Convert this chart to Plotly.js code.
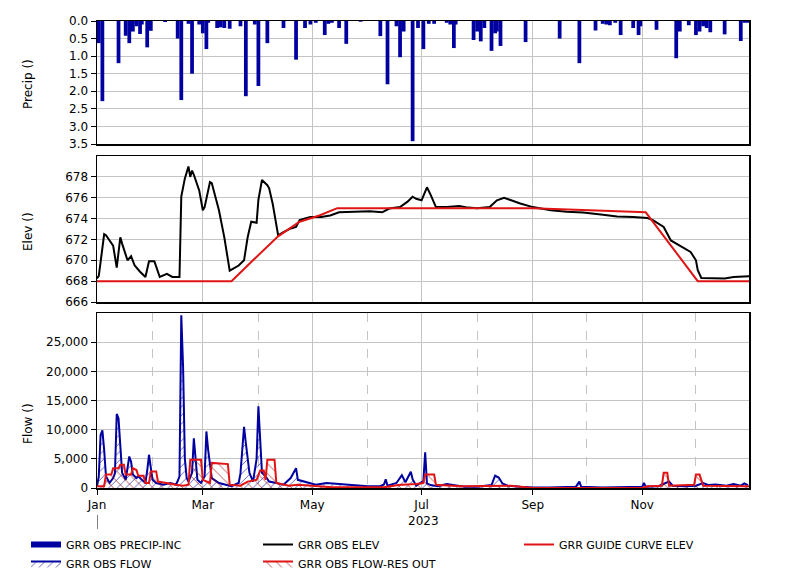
<!DOCTYPE html>
<html>
<head>
<meta charset="utf-8">
<script src="https://cdn.plot.ly/plotly-3.0.1.min.js"></script>
<style>html,body{margin:0;padding:0;background:#fff;}#chart{width:801px;height:580px;}</style>
</head>
<body>
<div id="chart"></div>
<script>
// ---------- DATA ----------
const precipDates = ['2023-01-02','2023-01-04','2023-01-13','2023-01-17','2023-01-19','2023-01-21','2023-01-23','2023-01-25','2023-01-26','2023-01-29','2023-01-31','2023-02-08','2023-02-15','2023-02-17','2023-02-21','2023-02-23','2023-02-27','2023-03-01','2023-03-03','2023-03-04','2023-03-09','2023-03-11','2023-03-13','2023-03-16','2023-03-22','2023-03-25','2023-03-30','2023-04-01','2023-04-06','2023-04-15','2023-04-22','2023-04-27','2023-04-30','2023-05-03','2023-05-08','2023-05-10','2023-05-12','2023-05-16','2023-05-20','2023-05-28','2023-06-08','2023-06-12','2023-06-17','2023-06-19','2023-06-21','2023-06-26','2023-06-29','2023-07-02','2023-07-05','2023-07-08','2023-07-15','2023-07-17','2023-07-19','2023-07-20','2023-07-30','2023-08-01','2023-08-03','2023-08-05','2023-08-09','2023-08-11','2023-08-12','2023-08-14','2023-08-28','2023-09-16','2023-09-27','2023-10-06','2023-10-10','2023-10-12','2023-10-14','2023-10-17','2023-10-20','2023-10-27','2023-10-30','2023-10-31','2023-11-09','2023-11-20','2023-11-22','2023-11-27','2023-12-01','2023-12-03','2023-12-05','2023-12-07','2023-12-09','2023-12-17','2023-12-26','2023-12-28','2023-12-30'];
const precipValues = [0.63,2.28,1.2,0.42,0.63,0.3,0.15,0.37,0.1,0.75,0.28,0.03,0.5,2.25,0.08,1.5,0.1,0.35,0.8,0.05,0.2,0.18,0.2,0.22,0.15,2.14,0.1,1.85,0.63,0.2,1.1,0.2,0.1,0.05,0.4,0.08,0.05,0.2,0.65,0.02,0.43,1.8,0.15,1.03,0.3,3.42,0.2,0.8,0.08,0.08,0.05,0.1,0.77,0.1,0.54,0.3,0.58,0.2,0.85,0.35,0.3,0.71,0.6,0.5,1.2,0.27,0.08,0.1,0.12,0.05,0.4,0.2,0.4,0.15,0.25,1.06,0.3,0.12,0.4,0.3,0.15,0.2,0.32,0.38,0.57,0.05,0.05];

const elevDates = ['2023-01-01','2023-01-02','2023-01-05','2023-01-06','2023-01-08','2023-01-10','2023-01-12','2023-01-14','2023-01-15','2023-01-18','2023-01-20','2023-01-22','2023-01-25','2023-01-28','2023-01-30','2023-02-02','2023-02-05','2023-02-09','2023-02-12','2023-02-16','2023-02-17','2023-02-19','2023-02-21','2023-02-22','2023-02-23','2023-02-24','2023-02-27','2023-03-01','2023-03-02','2023-03-05','2023-03-06','2023-03-10','2023-03-13','2023-03-16','2023-03-18','2023-03-21','2023-03-24','2023-03-26','2023-03-28','2023-03-31','2023-04-01','2023-04-03','2023-04-06','2023-04-07','2023-04-09','2023-04-12','2023-04-15','2023-04-19','2023-04-22','2023-04-24','2023-04-27','2023-04-30','2023-05-06','2023-05-11','2023-05-16','2023-05-21','2023-06-02','2023-06-09','2023-06-13','2023-06-19','2023-06-23','2023-06-26','2023-06-28','2023-07-01','2023-07-04','2023-07-06','2023-07-09','2023-07-15','2023-07-22','2023-07-27','2023-08-01','2023-08-08','2023-08-12','2023-08-16','2023-08-20','2023-08-25','2023-09-01','2023-09-11','2023-09-20','2023-09-29','2023-10-09','2023-10-18','2023-10-27','2023-11-04','2023-11-07','2023-11-13','2023-11-17','2023-11-22','2023-11-28','2023-12-01','2023-12-02','2023-12-04','2023-12-11','2023-12-17','2023-12-22','2023-12-31'];
const elevValues = [668.25,668.5,672.5,672.4,671.9,671.4,669.3,672.2,671.6,670.0,670.4,669.5,668.9,668.4,669.9,669.9,668.4,668.7,668.4,668.4,676.1,677.85,679.0,678.0,678.6,678.2,676.7,674.8,675.1,677.5,677.4,674.8,672.2,669.0,669.2,669.5,670.0,672.2,673.7,673.6,675.8,677.7,677.2,676.9,675.4,672.4,672.7,673.05,673.2,673.85,674.0,674.15,674.15,674.3,674.6,674.65,674.7,674.6,674.96,675.1,675.6,676.1,675.9,675.75,677.0,676.3,675.1,675.1,675.2,675.05,675.0,675.1,675.75,676.0,675.75,675.45,675.1,674.8,674.65,674.58,674.4,674.2,674.15,674.05,673.85,673.2,671.9,671.4,670.8,670.0,669.05,668.3,668.25,668.25,668.4,668.47];

const guideDates = ['2023-01-01','2023-03-17','2023-03-29','2023-04-12','2023-04-24','2023-05-05','2023-05-15','2023-09-01','2023-11-03','2023-12-02','2023-12-31'];
const guideValues = [668,668,670.0,672.3,673.7,674.3,675,675,674.6,668,668];

const flowDates = ['2023-01-01','2023-01-02','2023-01-03','2023-01-04','2023-01-05','2023-01-06','2023-01-08','2023-01-10','2023-01-11','2023-01-12','2023-01-13','2023-01-14','2023-01-15','2023-01-17','2023-01-19','2023-01-20','2023-01-21','2023-01-23','2023-01-24','2023-01-26','2023-01-28','2023-01-29','2023-01-30','2023-01-31','2023-02-01','2023-02-03','2023-02-07','2023-02-11','2023-02-14','2023-02-15','2023-02-16','2023-02-17','2023-02-18','2023-02-19','2023-02-20','2023-02-21','2023-02-23','2023-02-24','2023-02-25','2023-02-26','2023-02-28','2023-03-02','2023-03-03','2023-03-04','2023-03-06','2023-03-10','2023-03-17','2023-03-21','2023-03-22','2023-03-24','2023-03-25','2023-03-27','2023-03-29','2023-03-31','2023-04-01','2023-04-02','2023-04-03','2023-04-05','2023-04-07','2023-04-11','2023-04-15','2023-04-19','2023-04-22','2023-04-23','2023-04-27','2023-05-03','2023-05-09','2023-05-20','2023-06-01','2023-06-08','2023-06-10','2023-06-11','2023-06-12','2023-06-17','2023-06-20','2023-06-22','2023-06-25','2023-06-26','2023-06-28','2023-06-30','2023-07-02','2023-07-03','2023-07-04','2023-07-06','2023-07-10','2023-07-15','2023-07-20','2023-07-25','2023-08-01','2023-08-09','2023-08-11','2023-08-13','2023-08-15','2023-08-18','2023-08-25','2023-09-01','2023-09-10','2023-09-25','2023-09-27','2023-09-28','2023-10-10','2023-10-25','2023-11-01','2023-11-02','2023-11-03','2023-11-10','2023-11-16','2023-11-18','2023-11-25','2023-12-01','2023-12-05','2023-12-08','2023-12-12','2023-12-18','2023-12-22','2023-12-26','2023-12-28','2023-12-30'];
const flowValues = [300,2000,9100,9900,6500,2000,860,1700,2500,12700,11900,6500,2600,1400,5400,4500,2300,1700,2000,1400,860,3000,5700,3500,1400,860,570,860,570,1200,2000,29600,20800,5000,1700,1100,2600,8500,4300,1400,860,2000,9700,6500,1700,860,300,860,2500,10500,7700,2600,1100,5000,14000,8800,2600,2000,1100,860,570,1700,3400,1400,1100,570,860,640,300,300,600,1500,400,860,2200,1000,2800,1500,400,800,1200,6100,800,500,300,700,500,200,200,500,2100,1800,800,400,200,100,100,200,1100,200,100,100,200,860,200,300,1100,400,300,400,860,500,600,400,700,400,800,500];

const resOutDates = ['2023-01-01','2023-01-05','2023-01-06','2023-01-09','2023-01-10','2023-01-13','2023-01-14','2023-01-16','2023-01-17','2023-01-20','2023-01-21','2023-01-23','2023-01-24','2023-01-27','2023-01-28','2023-01-30','2023-01-31','2023-02-03','2023-02-04','2023-02-08','2023-02-14','2023-02-18','2023-02-21','2023-02-22','2023-02-28','2023-03-01','2023-03-05','2023-03-06','2023-03-15','2023-03-16','2023-03-22','2023-03-26','2023-03-31','2023-04-02','2023-04-04','2023-04-05','2023-04-06','2023-04-10','2023-04-11','2023-04-18','2023-04-23','2023-05-01','2023-05-12','2023-06-10','2023-06-18','2023-06-28','2023-07-02','2023-07-03','2023-07-08','2023-07-09','2023-07-23','2023-08-20','2023-08-31','2023-09-01','2023-11-01','2023-11-04','2023-11-12','2023-11-13','2023-11-15','2023-11-16','2023-11-30','2023-12-01','2023-12-03','2023-12-05','2023-12-31'];
const resOutValues = [300,300,2300,2300,3400,3400,4000,4000,2300,2300,3400,3100,2100,2100,860,860,2850,2850,1100,860,570,400,570,4850,4850,1400,860,4300,4100,570,400,1100,1400,3000,3000,1400,4850,4850,860,400,570,400,110,110,500,700,860,2300,2300,570,300,400,100,0,0,285,400,2600,2600,400,570,2300,2300,400,285];

const monthTickVals = ['2023-01-01','2023-03-01','2023-05-01','2023-07-01','2023-09-01','2023-11-01'];
const monthTickText = ['Jan','Mar','May','Jul','Sep','Nov'];
const minorMonthVals = ['2023-02-01','2023-04-01','2023-06-01','2023-08-01','2023-10-01','2023-12-01'];
const yearLabel = '2023';
const precipTicks = [0,0.5,1,1.5,2,2.5,3,3.5];
const elevTicks = [666,668,670,672,674,676,678];
const flowTicks = [0,5000,10000,15000,20000,25000];

// ---------- STYLE ----------
const BLUE = '#0000a0';
const RED = '#e01414';
const GRID = '#c4c4c4';
const FONT = 'DejaVu Sans';

const traces = [
  {type:'bar', x:precipDates, y:precipValues, xaxis:'x3', yaxis:'y3', marker:{color:BLUE, line:{width:0}},
   width:precipDates.map(()=>2.1*86400000), showlegend:false, name:'GRR OBS PRECIP-INC'},
  {type:'scatter', mode:'lines', x:[null], y:[null], xaxis:'x3', yaxis:'y3', line:{color:BLUE, width:6},
   name:'GRR OBS PRECIP-INC', legend:'legend'},
  {type:'scatter', mode:'lines', x:elevDates, y:elevValues, xaxis:'x2', yaxis:'y2', line:{color:'#000', width:2},
   name:'GRR OBS ELEV', legend:'legend2'},
  {type:'scatter', mode:'lines', x:guideDates, y:guideValues, xaxis:'x2', yaxis:'y2', line:{color:RED, width:2},
   name:'GRR GUIDE CURVE ELEV', legend:'legend3'},
  {type:'scatter', mode:'lines', x:flowDates, y:flowValues, xaxis:'x', yaxis:'y', line:{color:BLUE, width:2},
   fill:'tozeroy', fillcolor:'rgba(0,0,0,0)',
   fillpattern:{shape:'/', fgcolor:BLUE, bgcolor:'rgba(0,0,0,0)', size:6, solidity:0.1},
   name:'GRR OBS FLOW', legend:'legend'},
  {type:'scatter', mode:'lines', x:resOutDates, y:resOutValues, xaxis:'x', yaxis:'y', line:{color:RED, width:2},
   fill:'tozeroy', fillcolor:'rgba(0,0,0,0)',
   fillpattern:{shape:'\\', fgcolor:'#a01010', bgcolor:'rgba(0,0,0,0)', size:7, solidity:0.1},
   name:'GRR OBS FLOW-RES OUT', legend:'legend2'}
];

const L = 97, R = 749, T = 21, B = 488;
const PW = R - L, PH = B - T;
const py = p => (B - p) / PH;   // pixel y -> paper y
const px = p => (p - L) / PW;   // pixel x -> paper x

const xrange = ['2023-01-01','2023-12-30 14:00'];
const baseY = {showline:true, mirror:true, linecolor:'#000', linewidth:1.5, ticks:'outside', ticklen:5,
  tickcolor:'#000', showgrid:true, gridcolor:GRID, gridwidth:1, zeroline:false,
  tickfont:{family:FONT, size:12, color:'#000'}, tickmode:'array'};
const baseX = {type:'date', range:xrange, showline:true, mirror:true, linecolor:'#000', linewidth:1.5,
  showgrid:true, gridcolor:GRID, gridwidth:1, zeroline:false, tickmode:'array', tickvals:monthTickVals,
  ticktext:monthTickText};

const legendBase = {orientation:'v', xanchor:'left', yanchor:'top', bgcolor:'rgba(0,0,0,0)',
  font:{family:FONT, size:11, color:'#000'}, tracegroupgap:0, itemwidth:30};

const layout = {
  width:801, height:580,
  margin:{l:L, r:801-R, t:T, b:580-B, autoexpand:false},
  paper_bgcolor:'#fff', plot_bgcolor:'#fff',
  font:{family:FONT, size:12, color:'#000'},
  showlegend:true,
  xaxis:Object.assign({}, baseX, {anchor:'y', ticks:'outside', ticklen:5, tickcolor:'#000',
    tickfont:{family:FONT, size:12, color:'#000'},
    minor:{tickmode:'array', tickvals:minorMonthVals, showgrid:true, gridcolor:GRID, griddash:'dash', gridwidth:1, ticks:''}}),
  xaxis2:Object.assign({}, baseX, {anchor:'y2', matches:'x', showticklabels:false, ticks:''}),
  xaxis3:Object.assign({}, baseX, {anchor:'y3', matches:'x', showticklabels:false, ticks:''}),
  yaxis:Object.assign({}, baseY, {anchor:'x', domain:[0, py(313)], range:[0, 30000], tickvals:flowTicks, tickformat:',d'}),
  yaxis2:Object.assign({}, baseY, {anchor:'x2', domain:[py(302), py(156)], range:[666, 680], tickvals:elevTicks}),
  yaxis3:Object.assign({}, baseY, {anchor:'x3', domain:[py(144), 1], range:[3.5, 0], tickvals:precipTicks, tickformat:'.1f'}),
  legend:Object.assign({}, legendBase, {x:px(26), y:py(530)}),
  legend2:Object.assign({}, legendBase, {x:px(258), y:py(530)}),
  legend3:Object.assign({}, legendBase, {x:px(519), y:py(530)}),
  annotations:[
    {text:'Precip ()', xref:'paper', yref:'paper', x:px(28), y:py(84), textangle:-90, showarrow:false,
     xanchor:'center', yanchor:'middle', font:{family:FONT, size:12, color:'#000'}},
    {text:'Elev ()', xref:'paper', yref:'paper', x:px(28), y:py(232), textangle:-90, showarrow:false,
     xanchor:'center', yanchor:'middle', font:{family:FONT, size:12, color:'#000'}},
    {text:'Flow ()', xref:'paper', yref:'paper', x:px(28), y:py(424), textangle:-90, showarrow:false,
     xanchor:'center', yanchor:'middle', font:{family:FONT, size:12, color:'#000'}},
    {text:yearLabel, xref:'paper', yref:'paper', x:0.5, y:py(521), showarrow:false,
     xanchor:'center', yanchor:'middle', font:{family:FONT, size:12, color:'#000'}}
  ],
  shapes:[
    {type:'line', xref:'x', yref:'paper', x0:monthTickVals[0], x1:monthTickVals[0], y0:py(515), y1:py(529),
     line:{color:'#000', width:1}}
  ]
};

Plotly.newPlot('chart', traces, layout, {displayModeBar:false, staticPlot:true});
</script>
</body>
</html>
